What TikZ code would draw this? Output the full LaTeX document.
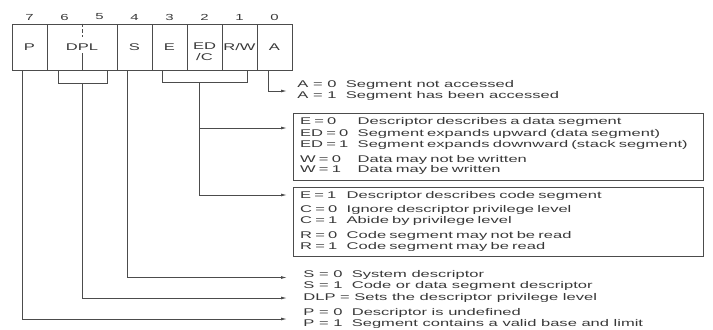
\documentclass[tikz,border=0pt]{standalone}
\usepackage{fontspec}
\setmainfont[FakeStretch=1.7]{Liberation Sans}
\usetikzlibrary{arrows.meta}

\begin{document}
\begin{tikzpicture}[
    x=0.03cm, y=-0.03cm,
    every node/.style={font=\fontsize{8.3}{9}\selectfont, text=black!78},
    bitbox/.style={draw=black!70, line width=0.7pt, minimum width=1.05cm, minimum height=1.38cm, inner sep=0pt},
    bitnum/.style={font=\fontsize{7.5}{8}\selectfont},
    desc/.style={anchor=west, inner sep=1pt},
    descbox/.style={draw=black!70, line width=0.7pt, anchor=north west, text width=11.9cm, inner xsep=0.2cm, inner ysep=3.4pt, align=left},
    conn/.style={draw=black!70, line width=0.7pt},
    arr/.style={conn, -{Latex[length=5pt,width=2.5pt]}}
]
    \useasboundingbox (0,0) rectangle (713,329);

    % Bit numbers
    \foreach \b/\x in {7/29.5, 6/64.5, 5/99.5, 4/134.5, 3/169.5, 2/204.5, 1/239.5, 0/274.5}
        \node[bitnum] (n\b) at (\x,17) {\b};

    % Attribute byte fields
    \node[bitbox] (p) at (29.5,47) {P};
    \node[bitbox, minimum width=2.1cm] (dpl) at (82,47) {DPL};
    \node[bitbox] (s) at (134.5,47) {S};
    \node[bitbox] (e) at (169.5,47) {E};
    \node[bitbox] (ed) at (204.5,47) {\smash{\raisebox{-7pt}{\begin{tabular}{@{}c@{}}ED\\/C\end{tabular}}}};
    \node[bitbox] (rw) at (239.5,47) {R/W};
    \node[bitbox] (a) at (274.5,47) {A};

    % Split between the two DPL bits
    \draw[conn, densely dashed] (dpl.north) -- ++(0,13);
    \draw[conn] (dpl.south) -- ++(0,-17);

    % Descriptions
    \node[desc] (adesc) at (296,91) {\begin{tabular}{@{}l@{\hspace{8pt}}l@{}}
        A = 0 & Segment not accessed\\
        A = 1 & Segment has been accessed
    \end{tabular}};

    \node[descbox] (databox) at (293,113) {\begin{tabular}{@{}l@{\hspace{8pt}}l@{}}
        E = 0 & Descriptor describes a data segment\\[1pt]
        ED = 0 & Segment expands upward (data segment)\\
        ED = 1 & Segment expands downward (stack segment)\\[4pt]
        W = 0 & Data may not be written\\
        W = 1 & Data may be written
    \end{tabular}};

    \node[descbox] (codebox) at (293,187) {\begin{tabular}{@{}l@{\hspace{8pt}}l@{}}
        E = 1 & Descriptor describes code segment\\[3pt]
        C = 0 & Ignore descriptor privilege level\\
        C = 1 & Abide by privilege level\\[4pt]
        R = 0 & Code segment may not be read\\
        R = 1 & Code segment may be read
    \end{tabular}};

    \node[desc] (sdesc) at (302,281) {\begin{tabular}{@{}l@{\hspace{8pt}}l@{}}
        S = 0 & System descriptor\\
        S = 1 & Code or data segment descriptor
    \end{tabular}};

    \node[desc] (dlpdesc) at (302,298) {DLP = Sets the descriptor privilege level};

    \node[desc] (pdesc) at (302,319) {\begin{tabular}{@{}l@{\hspace{8pt}}l@{}}
        P = 0 & Descriptor is undefined\\
        P = 1 & Segment contains a valid base and limit
    \end{tabular}};

    % Connectors
    \draw[arr, shorten >=0.27cm] ([xshift=-0.17cm]a.south) |- (adesc.west);

    \draw[conn] ([xshift=-0.2cm]e.south) -- ++(0,12) -| ([xshift=0.23cm]rw.south);
    \coordinate (edtap) at ([xshift=-0.15cm, yshift=-0.36cm]ed.south);
    \draw[arr, shorten >=0.18cm] (edtap) |- ([yshift=-0.45cm]databox.north west);
    \draw[arr, shorten >=0.18cm] (edtap) |- ([yshift=-0.24cm]codebox.north west);

    \draw[arr, shorten >=0.45cm] ([xshift=-0.2cm]s.south) |- ([yshift=3pt]sdesc.west);

    \draw[conn] ([xshift=-0.72cm]dpl.south) -- ++(0,13) -| ([xshift=0.75cm]dpl.south);
    \draw[arr, shorten >=0.45cm] ([yshift=-0.39cm]dpl.south) |- (dlpdesc.west);

    \draw[arr, shorten >=0.45cm] ([xshift=-0.2cm]p.south) |- (pdesc.west);

\end{tikzpicture}
\end{document}
